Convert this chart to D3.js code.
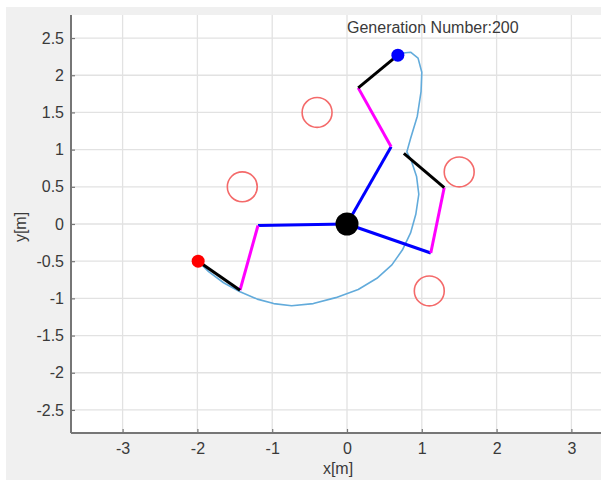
<!DOCTYPE html>
<html>
<head>
<meta charset="utf-8">
<script src="https://cdn.jsdelivr.net/npm/d3@7"></script>
<style>
  html, body { margin: 0; padding: 0; background: #fff; }
  svg { display: block; font-family: "Liberation Sans", Arial, sans-serif; }
</style>
</head>
<body>
<svg id="chart" width="601" height="480"></svg>
<script>
// Axis ticks
const xTicks = [-3, -2, -1, 0, 1, 2, 3];
const yTicks = [-2.5, -2, -1.5, -1, -0.5, 0, 0.5, 1, 1.5, 2, 2.5];

// Base of the three-legged robot
const base = [0, 0];

// Each leg: base -> joint1 (blue), joint1 -> joint2 (magenta), joint2 -> tip (black)
const legUp    = [[0, 0], [0.59, 1.04], [0.15, 1.83], [0.68, 2.27]];
const legLeft  = [[0, 0], [-1.19, -0.02], [-1.43, -0.89], [-1.99, -0.50]];
const legRight = [[0, 0], [1.12, -0.39], [1.30, 0.49], [0.76, 0.95]];
const legs = [legUp, legLeft, legRight];

// Leg tips with their marker colours
const tipUp = [0.68, 2.27];
const tipLeft = [-1.99, -0.50];

// Obstacles: centre x, centre y
const obstacles = [[-0.4, 1.5], [-1.4, 0.5], [1.5, 0.7], [1.1, -0.9]];
const obstacleRadius = 0.2;

// Path traced by the end effector
const trajectory = [
  [-1.99, -0.50], [-1.85, -0.64], [-1.65, -0.79], [-1.43, -0.91], [-1.20, -1.01],
  [-0.98, -1.07], [-0.74, -1.10], [-0.45, -1.07], [-0.15, -0.99], [0.15, -0.88],
  [0.40, -0.73], [0.60, -0.55], [0.74, -0.35], [0.85, -0.12], [0.92, 0.13],
  [0.96, 0.40], [0.93, 0.64], [0.86, 0.85], [0.80, 0.97], [0.85, 1.15],
  [0.94, 1.45], [0.99, 1.78], [1.00, 2.04], [0.95, 2.23], [0.85, 2.31],
  [0.75, 2.30], [0.68, 2.27]
];

const titleText = "Generation Number:200";

const svg = d3.select("#chart");
const W = 601, H = 480;
const textColor = "#3a3a3a";
const fontSize = 16;

// figure background
svg.append("rect").attr("width", W).attr("height", H).attr("fill", "#fff");
svg.append("rect").attr("x", 6).attr("y", 7).attr("width", W - 6).attr("height", H - 7).attr("fill", "#f0f0f0");

const pL = 71, pT = 15, pB = 433, pR = 623;
const x = d3.scaleLinear().domain([-3.69, 3.69]).range([pL, pR]);
const y = d3.scaleLinear().domain([-2.81, 2.81]).range([pB, pT]);

const clipId = "plotclip";
svg.append("clipPath").attr("id", clipId)
  .append("rect").attr("x", pL).attr("y", pT).attr("width", pR - pL).attr("height", pB - pT);

svg.append("rect").attr("x", pL).attr("y", pT).attr("width", pR - pL).attr("height", pB - pT)
  .attr("fill", "#fff");

// grid
const grid = svg.append("g").attr("clip-path", `url(#${clipId})`);
grid.selectAll("line.gx").data(xTicks).join("line")
  .attr("x1", d => x(d)).attr("x2", d => x(d)).attr("y1", pT).attr("y2", pB)
  .attr("stroke", "#e2e2e2").attr("stroke-width", 1.3);
grid.selectAll("line.gy").data(yTicks).join("line")
  .attr("y1", d => y(d)).attr("y2", d => y(d)).attr("x1", pL).attr("x2", pR)
  .attr("stroke", "#e2e2e2").attr("stroke-width", 1.3);

const plot = svg.append("g").attr("clip-path", `url(#${clipId})`);

// obstacles
plot.selectAll("circle.obs").data(obstacles).join("circle")
  .attr("cx", d => x(d[0])).attr("cy", d => y(d[1]))
  .attr("r", d => x(obstacleRadius) - x(0))
  .attr("fill", "none").attr("stroke", "#f46a6a").attr("stroke-width", 1.6);

// trajectory
const line = d3.line().x(d => x(d[0])).y(d => y(d[1]));
plot.append("path").datum(trajectory).attr("d", line)
  .attr("fill", "none").attr("stroke", "#62abdb").attr("stroke-width", 1.6)
  .attr("stroke-linejoin", "round");

// legs
const segColors = ["#0000ff", "#ff00ff", "#000000"];
legs.forEach(leg => {
  for (let i = 0; i < 3; i++) {
    plot.append("line")
      .attr("x1", x(leg[i][0])).attr("y1", y(leg[i][1]))
      .attr("x2", x(leg[i + 1][0])).attr("y2", y(leg[i + 1][1]))
      .attr("stroke", segColors[i]).attr("stroke-width", 3);
  }
});

// markers
plot.append("circle").attr("cx", x(base[0])).attr("cy", y(base[1])).attr("r", 11.5).attr("fill", "#000");
plot.append("circle").attr("cx", x(tipUp[0])).attr("cy", y(tipUp[1])).attr("r", 6.5).attr("fill", "#0000ff");
plot.append("circle").attr("cx", x(tipLeft[0])).attr("cy", y(tipLeft[1])).attr("r", 6.5).attr("fill", "#ff0000");

// title text placed in data coordinates
plot.append("text").attr("x", x(0)).attr("y", y(2.64)).attr("dy", "0.35em")
  .attr("font-size", fontSize).attr("fill", textColor).text(titleText);

// axes
const axColor = "#767676";
const xAxis = svg.append("g").attr("transform", `translate(0,${pB})`)
  .call(d3.axisBottom(x).tickValues(xTicks).tickSize(-4).tickPadding(10).tickFormat(d => String(d)));
const yAxis = svg.append("g").attr("transform", `translate(${pL},0)`)
  .call(d3.axisLeft(y).tickValues(yTicks).tickSize(-4).tickPadding(7).tickFormat(d => String(d)));
[xAxis, yAxis].forEach(g => {
  g.select(".domain").attr("stroke", axColor).attr("stroke-width", 2);
  g.selectAll(".tick line").attr("stroke", axColor).attr("stroke-width", 1.2);
  g.selectAll(".tick text").attr("fill", textColor).attr("font-size", fontSize)
    .attr("font-family", "Liberation Sans, Arial, sans-serif");
});
xAxis.select(".domain").attr("d", `M${pL},0H${pR}`);
yAxis.select(".domain").attr("d", `M0,${pT}V${pB}`);

// axis labels
svg.append("text").attr("x", 338).attr("y", 474).attr("text-anchor", "middle")
  .attr("font-size", fontSize).attr("fill", textColor).text("x[m]");
svg.append("text").attr("transform", `translate(20,${(pT + pB) / 2 + 3}) rotate(-90)`)
  .attr("dy", "0.35em").attr("text-anchor", "middle")
  .attr("font-size", fontSize).attr("fill", textColor).text("y[m]");
</script>
</body>
</html>
